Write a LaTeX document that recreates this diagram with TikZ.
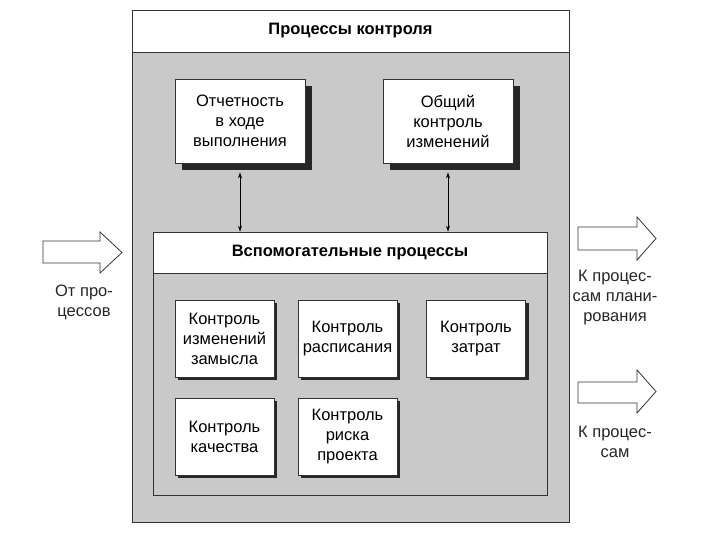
\documentclass[tikz,border=0pt]{standalone}
\usepackage{fontspec}
\setmainfont{Liberation Sans}
\usetikzlibrary{shadows,calc,arrows.meta}
\definecolor{bggray}{gray}{0.79}
\definecolor{shgray}{gray}{0.15}
\tikzset{
  every node/.style={font=\fontsize{16.5}{20}\selectfont},
  frame/.style={draw=black!80, line width=0.8pt, inner sep=0pt},
  titlebar/.style={frame, fill=white, font=\fontsize{16.5}{20}\selectfont\bfseries},
  bigbox/.style={frame, fill=white, align=center, minimum width=130pt, minimum height=84pt,
     general shadow={fill=shgray, shadow xshift=7pt, shadow yshift=-7pt}},
  smallbox/.style={frame, fill=white, align=center, minimum width=99pt, minimum height=77pt,
     general shadow={fill=shgray, shadow xshift=3pt, shadow yshift=-3pt}},
  blockarrow/.style={draw=black!80, line width=0.8pt, fill=white},
  lbl/.style={align=center, text=black!85},
  dbl/.style={{Stealth[length=6pt,width=4pt]}-{Stealth[length=6pt,width=4pt]}, line width=0.7pt}
}
\begin{document}
\begin{tikzpicture}[x=1pt,y=-1pt]
\useasboundingbox (0,0) rectangle (720,540);
% outer frame
\node[frame, fill=bggray, minimum width=437pt, minimum height=512pt] (outer) at (350.5,266) {};
\node[titlebar, minimum width=437pt, minimum height=42pt] (title) at (350.5,31) {Процессы контроля};
% top boxes
\node[bigbox] (rep) at (240,121) {Отчетность\\в ходе\\выполнения};
\node[bigbox] (chg) at (448,121) {Общий\\контроль\\изменений};
% inner box
\node[frame, fill=bggray, minimum width=394pt, minimum height=263pt] (inner) at (350,363.5) {};
\node[titlebar, minimum width=394pt, minimum height=41pt] (ititle) at (350,252.5) {Вспомогательные процессы};
% small boxes
\node[smallbox] (a) at (224.5,338.5) {Контроль\\изменений\\замысла};
\node[smallbox] (b) at (347.5,338.5) {Контроль\\расписания};
\node[smallbox] (c) at (476,338.5) {Контроль\\затрат};
\node[smallbox] (d) at (224.5,436.5) {Контроль\\качества};
\node[smallbox] (e) at (347.5,436.5) {Контроль\\риска\\проекта};
% double arrows
\draw[dbl] ($(rep.south)+(0,9)$) -- (rep.south |- ititle.north);
\draw[dbl] ($(chg.south)+(0,9)$) -- (chg.south |- ititle.north);
% block arrows
\draw[blockarrow] (43,241) -- (100,241) -- (100,232) -- (122,252.5) -- (100,273) -- (100,263) -- (43,263) -- cycle;
\draw[blockarrow] (578,227) -- (637,227) -- (637,217) -- (656,238.5) -- (637,260) -- (637,250) -- (578,250) -- cycle;
\draw[blockarrow] (578,382) -- (637,382) -- (637,370) -- (656,391.5) -- (637,413) -- (637,403) -- (578,403) -- cycle;
% labels
\node[lbl] (lin) at (84,302) {От про-\\цессов};
\node[lbl] (lout1) at (615,298) {К процес-\\сам плани-\\рования};
\node[lbl] (lout2) at (615,442) {К процес-\\сам};
\end{tikzpicture}
\end{document}
